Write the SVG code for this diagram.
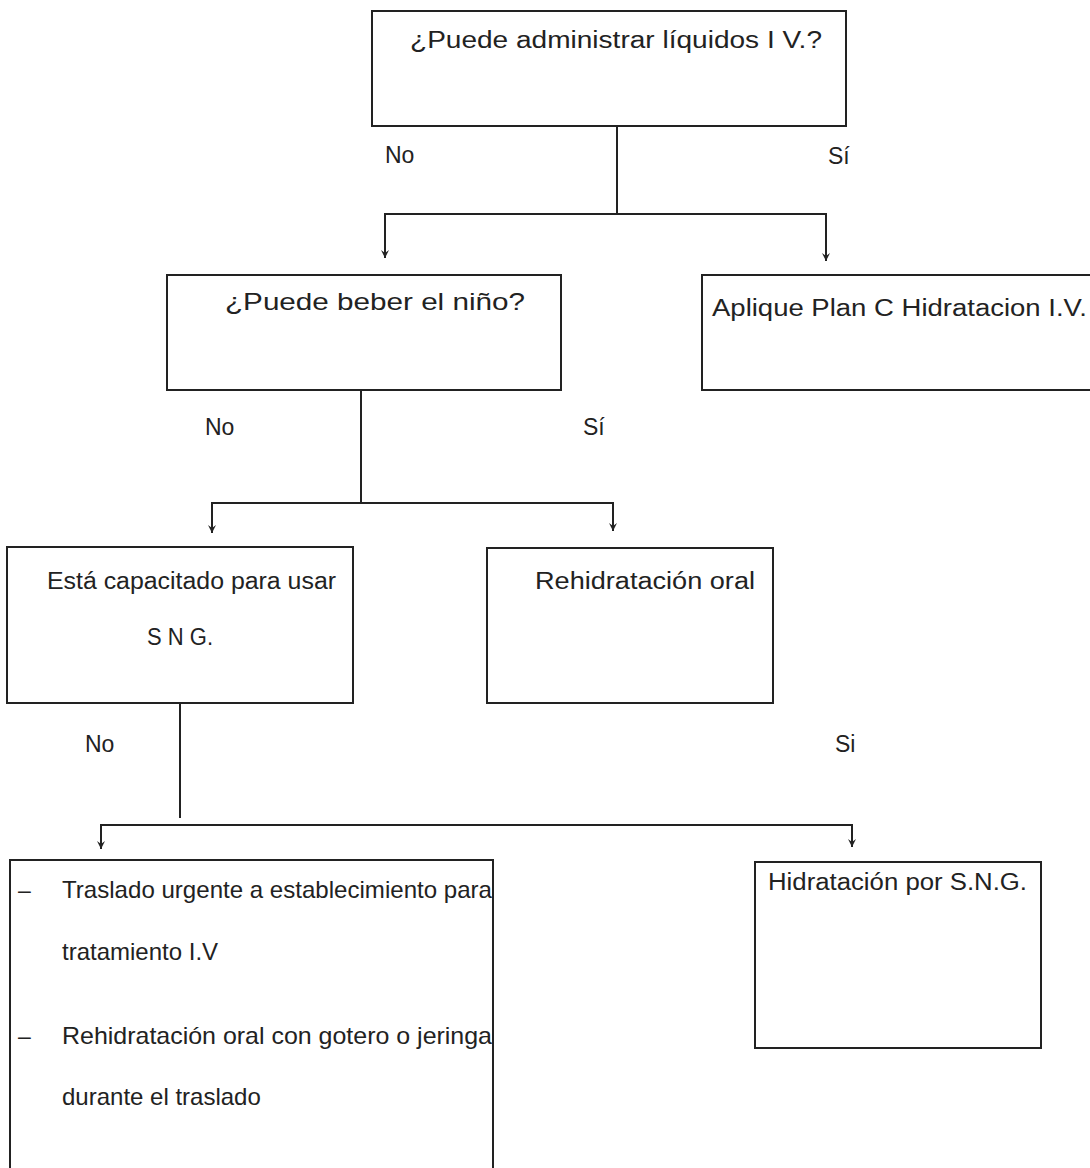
<svg xmlns="http://www.w3.org/2000/svg" width="1090" height="1168" viewBox="0 0 1090 1168">
<style>
.box{fill:#fff;stroke:#222;stroke-width:2}
.t{font-family:"Liberation Sans",Arial,sans-serif;font-size:23px;fill:#222}
.b{font-size:24px}
.c{fill:none;stroke:#222;stroke-width:2}
</style>
<defs>
<marker id="a" markerWidth="10" markerHeight="12" refX="5" refY="11" orient="0" markerUnits="userSpaceOnUse" viewBox="0 0 10 12">
<path d="M1,3 L5,11 L9,3 L5,6 Z" fill="#222"/>
</marker>
</defs>
<rect width="1090" height="1168" fill="#fff"/>
<g id="connectors">
<path class="c" d="M617,126 V214"/>
<path class="c" d="M617,214 H385 V258" marker-end="url(#a)"/>
<path class="c" d="M617,214 H826 V261" marker-end="url(#a)"/>
<path class="c" d="M361,390 V503"/>
<path class="c" d="M361,503 H212 V533" marker-end="url(#a)"/>
<path class="c" d="M361,503 H613 V531" marker-end="url(#a)"/>
<path class="c" d="M180,703 V818"/>
<path class="c" d="M180,825 H101 V849" marker-end="url(#a)"/>
<path class="c" d="M180,825 H852 V847" marker-end="url(#a)"/>
<text class="t" x="385" y="163">No</text>
<text class="t" x="828" y="164">Sí</text>
<text class="t" x="205" y="435">No</text>
<text class="t" x="583" y="435">Sí</text>
<text class="t" x="85" y="752">No</text>
<text class="t" x="835" y="752">Si</text>
</g>
<g id="n1">
<rect class="box" x="372" y="11" width="474" height="115"/>
<text class="t" x="410" y="48" textLength="412" lengthAdjust="spacingAndGlyphs">¿Puede administrar líquidos I V.?</text>
</g>
<g id="n2">
<rect class="box" x="167" y="275" width="394" height="115"/>
<text class="t b" x="225" y="310" textLength="300" lengthAdjust="spacingAndGlyphs">¿Puede beber el niño?</text>
</g>
<g id="n3">
<rect class="box" x="702" y="275" width="392" height="115"/>
<text class="t" x="712" y="316" textLength="375" lengthAdjust="spacingAndGlyphs">Aplique Plan C Hidratacion I.V.</text>
</g>
<g id="n4">
<rect class="box" x="7" y="547" width="346" height="156"/>
<text class="t" x="47" y="589" textLength="289" lengthAdjust="spacingAndGlyphs">Está capacitado para usar</text>
<text class="t" x="147" y="645" textLength="66" lengthAdjust="spacingAndGlyphs">S N G.</text>
</g>
<g id="n5">
<rect class="box" x="487" y="548" width="286" height="155"/>
<text class="t" x="535" y="589" textLength="220" lengthAdjust="spacingAndGlyphs">Rehidratación oral</text>
</g>
<g id="n6">
<rect class="box" x="10" y="860" width="483" height="320"/>
<text class="t" x="18" y="898">–</text>
<text class="t b" x="62" y="898" textLength="430" lengthAdjust="spacingAndGlyphs">Traslado urgente a establecimiento para</text>
<text class="t b" x="62" y="960">tratamiento I.V</text>
<text class="t" x="18" y="1044">–</text>
<text class="t b" x="62" y="1044" textLength="430" lengthAdjust="spacingAndGlyphs">Rehidratación oral con gotero o jeringa</text>
<text class="t b" x="62" y="1105">durante el traslado</text>
</g>
<g id="n7">
<rect class="box" x="755" y="862" width="286" height="186"/>
<text class="t" x="768" y="890" textLength="259" lengthAdjust="spacingAndGlyphs">Hidratación por S.N.G.</text>
</g>
</svg>
